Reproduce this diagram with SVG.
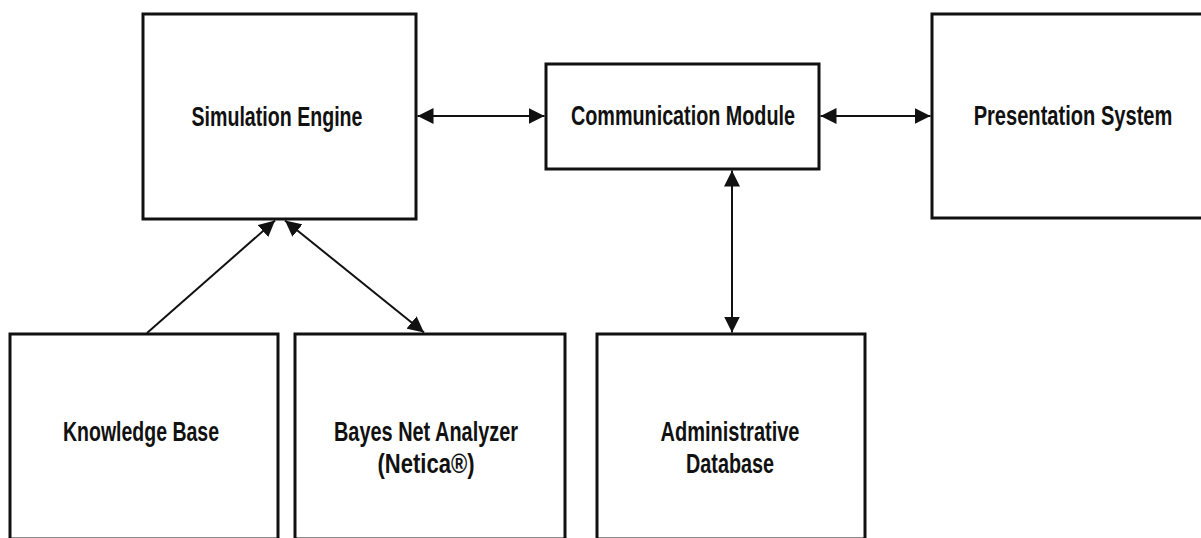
<svg xmlns="http://www.w3.org/2000/svg" width="1201" height="538" viewBox="0 0 1201 538">
  <style>
    .box { fill: #ffffff; stroke: #111111; stroke-width: 3; }
    .lbl { font-family: "Liberation Sans", Arial, sans-serif; font-weight: bold; font-size: 27px; fill: #111111; text-anchor: middle; }
    .conn { stroke: #111111; stroke-width: 2; fill: none; }
  </style>
  <defs>
    <marker id="ah" viewBox="0 0 16 16" refX="16" refY="8" markerWidth="16" markerHeight="16" markerUnits="userSpaceOnUse" orient="auto-start-reverse">
      <path d="M0,0 L16,8 L0,16 z" fill="#111111"/>
    </marker>
  </defs>
  <rect x="0" y="0" width="1201" height="538" fill="#ffffff"/>

  <g id="node-simulation-engine">
    <rect class="box" x="143" y="14" width="273" height="205"/>
    <text class="lbl" x="277" y="126" textLength="171" lengthAdjust="spacingAndGlyphs">Simulation Engine</text>
  </g>
  <g id="node-communication-module">
    <rect class="box" x="546" y="64" width="273" height="105"/>
    <text class="lbl" x="683" y="125" textLength="224" lengthAdjust="spacingAndGlyphs">Communication Module</text>
  </g>
  <g id="node-presentation-system">
    <rect class="box" x="932" y="14" width="271" height="204"/>
    <g transform="translate(1073,125) scale(0.75,1)">
      <text class="lbl" x="0" y="0" textLength="265" lengthAdjust="spacingAndGlyphs">Presentation System</text>
    </g>
  </g>
  <g id="node-knowledge-base">
    <rect class="box" x="10" y="334" width="268" height="205"/>
    <text class="lbl" x="141" y="441" textLength="156" lengthAdjust="spacingAndGlyphs">Knowledge Base</text>
  </g>
  <g id="node-bayes-net-analyzer">
    <rect class="box" x="295" y="334" width="270" height="205"/>
    <text class="lbl" x="426" y="441" textLength="184" lengthAdjust="spacingAndGlyphs">Bayes Net Analyzer</text>
    <text class="lbl" x="426" y="473" textLength="97" lengthAdjust="spacingAndGlyphs">(Netica®)</text>
  </g>
  <g id="node-administrative-database">
    <rect class="box" x="597" y="334" width="268" height="205"/>
    <text class="lbl" x="730" y="441" textLength="139" lengthAdjust="spacingAndGlyphs">Administrative</text>
    <text class="lbl" x="730" y="473" textLength="88" lengthAdjust="spacingAndGlyphs">Database</text>
  </g>

  <g id="connectors">
    <line class="conn" x1="417.5" y1="116" x2="544.5" y2="116" marker-start="url(#ah)" marker-end="url(#ah)"/>
    <line class="conn" x1="820.5" y1="116" x2="930.5" y2="116" marker-start="url(#ah)" marker-end="url(#ah)"/>
    <line class="conn" x1="147" y1="333" x2="275" y2="220.5" marker-end="url(#ah)"/>
    <line class="conn" x1="285" y1="220.5" x2="424" y2="332.5" marker-start="url(#ah)" marker-end="url(#ah)"/>
    <line class="conn" x1="732" y1="170.5" x2="732" y2="332.5" marker-start="url(#ah)" marker-end="url(#ah)"/>
  </g>
</svg>
